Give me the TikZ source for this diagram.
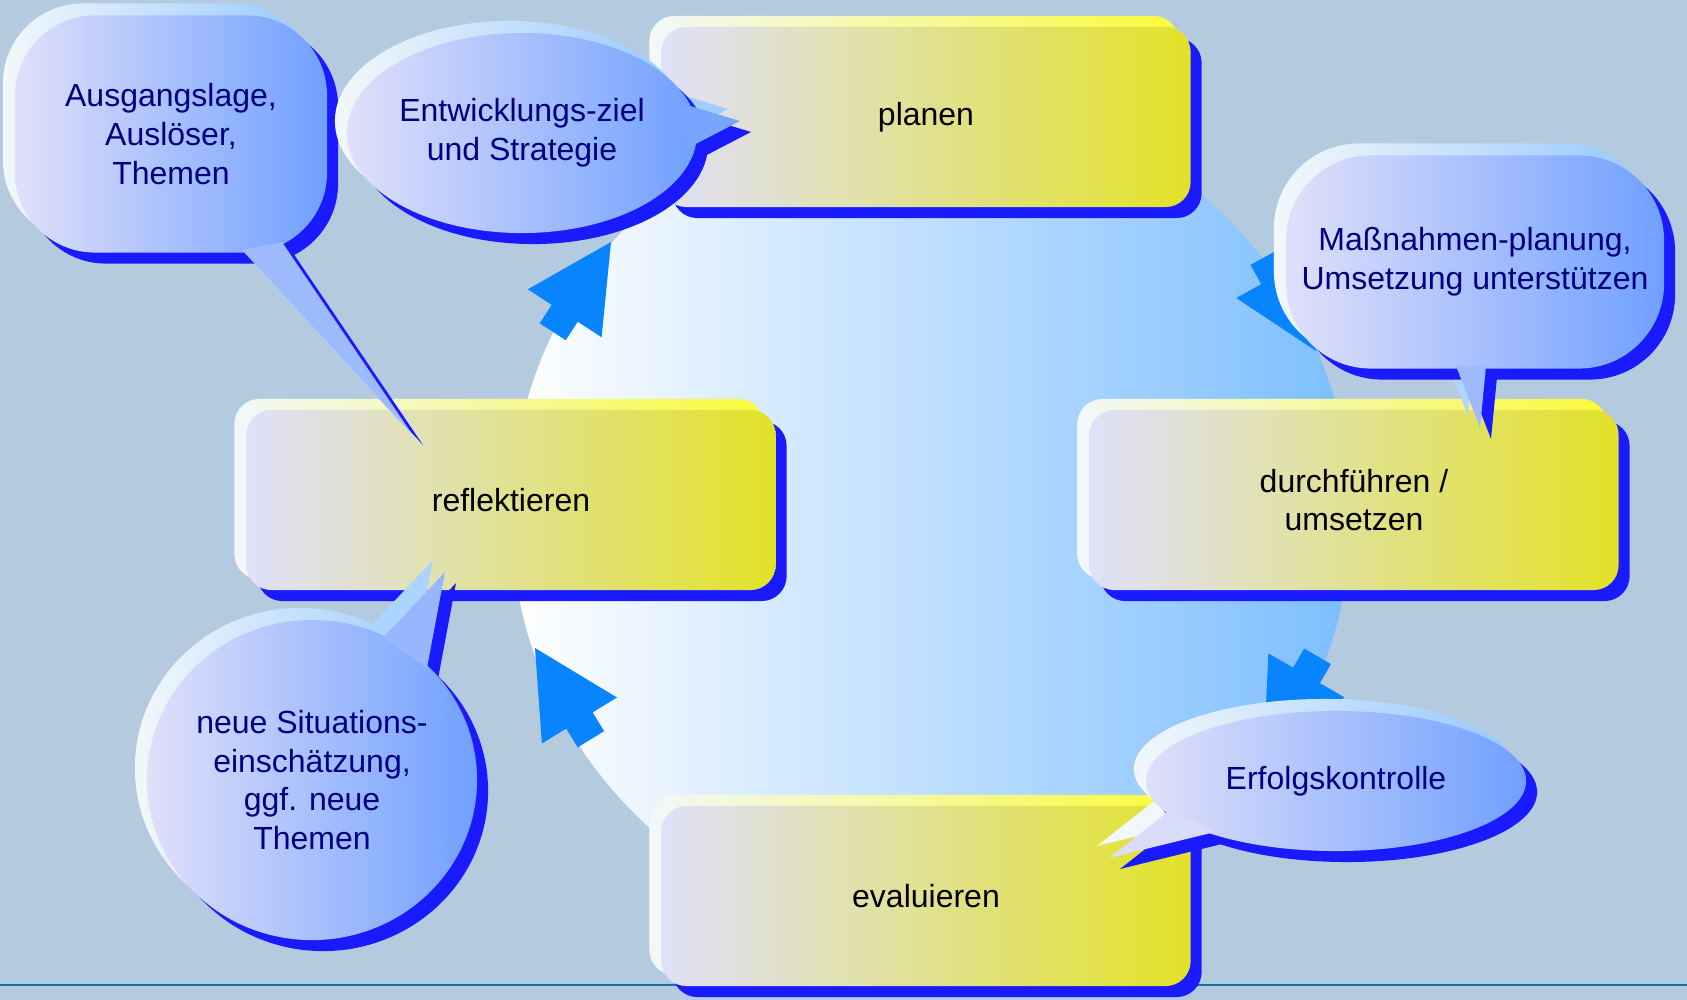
\documentclass[tikz,border=0pt]{standalone}
\usepackage{fontspec}
\setmainfont{Liberation Sans}
\usetikzlibrary{shapes.geometric,shadows}

\definecolor{hintergrund}{RGB}{180,203,223}
\definecolor{linienblau}{RGB}{20,112,160}
\definecolor{kreisblau}{RGB}{125,190,255}
\definecolor{pfeilblau}{RGB}{8,132,255}
\definecolor{schattenblau}{RGB}{26,26,255}
\definecolor{kastenlila}{RGB}{224,224,250}
\definecolor{kastengelb}{RGB}{226,226,40}
\definecolor{lichtgelb}{RGB}{250,250,60}
\definecolor{blaselila}{RGB}{224,224,250}
\definecolor{blaseblau}{RGB}{112,160,255}
\definecolor{lichtweiss}{RGB}{242,248,250}
\definecolor{lichtblau}{RGB}{150,200,255}
\definecolor{textblau}{RGB}{0,0,128}

\tikzset{
  kasten/.style={rectangle, rounded corners=0.25cm, minimum width=5.29cm, minimum height=1.8cm,
    inner sep=0pt, align=center, left color=kastenlila, right color=kastengelb,
    general shadow={shadow xshift=0.11cm, shadow yshift=-0.11cm, fill=schattenblau},
    general shadow={shadow xshift=-0.12cm, shadow yshift=0.11cm, left color=lichtweiss, right color=lichtgelb}},
  blase/.style={align=center, inner sep=0pt, text=textblau, left color=blaselila, right color=blaseblau,
    general shadow={shadow xshift=0.11cm, shadow yshift=-0.11cm, fill=schattenblau},
    general shadow={shadow xshift=-0.12cm, shadow yshift=0.12cm, left color=lichtweiss, right color=lichtblau}},
  eckblase/.style={blase, rectangle, rounded corners=#1},
  ovalblase/.style={blase, ellipse},
  spitzenschatten/.style={fill=schattenblau, shift={(11,11)}},
  spitzenlicht/.style={fill=lichtblau!#1!lichtweiss, shift={(-12,-12)}},
  spitze/.style={fill=blaseblau!#1!blaselila}
}

% Pfeil auf dem Kreis: Spitze x, Spitze y, Winkel
\newcommand{\pfeil}[3]{%
  \fill[pfeilblau, shift={(#1,#2)}, rotate=#3]
    (0,0) -- (-85,44) -- (-85,15.5) -- (-107,15.5) -- (-107,-15.5) -- (-85,-15.5) -- (-85,-44) -- cycle;}

\begin{document}
\begin{tikzpicture}[x=0.01cm, y=-0.01cm, font=\fontsize{9.1}{11}\selectfont]
    \useasboundingbox (0,0) rectangle (1687,1000);

    % Hintergrund
    \fill[hintergrund] (0,0) rectangle (1687,1000);
    \draw[linienblau, line width=0.8pt] (0,985) -- (1687,985);

    % Kreis
    \shade[left color=white, right color=kreisblau] (931,516) circle [radius=420];

    % Pfeile
    \pfeil{611}{242}{57}
    \pfeil{1316}{351}{-61}
    \pfeil{1264}{749}{-120}
    \pfeil{535}{648}{121.5}

    % Kästen
    \node[kasten] (planen) at (926,117) {planen};
    \node[kasten] (reflektieren) at (511,500) {reflektieren};
    \node[kasten] (durchfuehren) at (1354,500) {durchführen /\\umsetzen};
    \node[kasten] (evaluieren) at (926,896) {evaluieren};

    % Spitzen: Schatten und Licht
    \fill[spitzenschatten] (242,250) -- (412,434) -- (282,242) -- cycle;
    \fill[spitzenschatten] (684,104) -- (740,121) -- (688,148) -- cycle;
    \fill[spitzenschatten] (1456,366) -- (1480,428) -- (1486,366) -- cycle;
    \fill[spitzenschatten] (383,638) -- (445,572) -- (427,668) -- cycle;
    \fill[spitzenschatten] (1170,810) -- (1109,858) -- (1215,832) -- cycle;
    \fill[spitzenlicht=70] (242,250) -- (412,434) -- (282,242) -- cycle;
    \fill[spitzenlicht=90] (684,104) -- (740,121) -- (688,148) -- cycle;
    \fill[spitzenlicht=70] (1456,366) -- (1480,428) -- (1486,366) -- cycle;
    \fill[spitzenlicht=75] (383,638) -- (445,572) -- (427,668) -- cycle;
    \fill[spitzenlicht=0] (1170,810) -- (1109,858) -- (1215,832) -- cycle;

    % Sprechblasen
    \node[eckblase=0.8cm, minimum width=3.12cm, minimum height=2.37cm] (ausgangslage) at (171,134)
        {Ausgangslage,\\Auslöser,\\Themen};
    \node[ovalblase, minimum width=3.5cm, minimum height=2cm] (entwicklungsziel) at (522,133)
        {Entwicklungs-ziel\\und Strategie};
    \node[eckblase=0.85cm, minimum width=3.78cm, minimum height=2.13cm] (massnahmen) at (1475,262)
        {Maßnahmen-planung,\\Umsetzung unterstützen};
    \node[ovalblase, minimum width=3.3cm, minimum height=3.2cm] (situation) at (312,780)
        {neue Situations-\\einschätzung,\\ggf. neue\\Themen};
    \node[ovalblase, minimum width=3.8cm, minimum height=1.4cm] (erfolgskontrolle) at (1336,781)
        {Erfolgskontrolle};

    % Spitzen
    \fill[spitze=60] (242,250) -- (412,434) -- (282,242) -- cycle;
    \fill[spitze=92] (684,104) -- (740,121) -- (688,148) -- cycle;
    \fill[spitze=60] (1456,366) -- (1480,428) -- (1486,366) -- cycle;
    \fill[spitze=65] (383,638) -- (445,572) -- (427,668) -- cycle;
    \fill[spitze=5] (1170,810) -- (1109,858) -- (1215,832) -- cycle;
\end{tikzpicture}
\end{document}
